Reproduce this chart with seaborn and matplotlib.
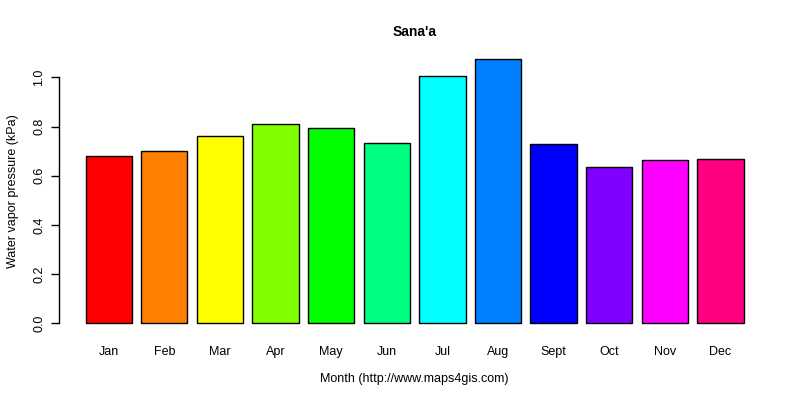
import matplotlib
matplotlib.use("Agg")
import matplotlib.pyplot as plt
import seaborn as sns
import pandas as pd

# monthly water vapor pressure, Sana'a (kPa)
months = ['Jan', 'Feb', 'Mar', 'Apr', 'May', 'Jun',
          'Jul', 'Aug', 'Sept', 'Oct', 'Nov', 'Dec']
vapor = [0.679, 0.699, 0.760, 0.809, 0.793, 0.732,
         1.004, 1.073, 0.728, 0.634, 0.663, 0.667]
colors = ['#FF0000', '#FF8000', '#FFFF00', '#80FF00', '#00FF00', '#00FF80',
          '#00FFFF', '#0080FF', '#0000FF', '#8000FF', '#FF00FF', '#FF0080']

df = pd.DataFrame({'month': months, 'vapor': vapor})

sns.set_style('white')
plt.rcParams['font.family'] = ['Liberation Sans', 'DejaVu Sans']
plt.rcParams['text.color'] = 'black'
plt.rcParams['axes.labelcolor'] = 'black'
plt.rcParams['xtick.color'] = 'black'
plt.rcParams['ytick.color'] = 'black'

fig = plt.figure(figsize=(8, 4), dpi=100)
ax = fig.add_axes([0.074, 0.165, 0.8885, 0.713])

sns.barplot(data=df, x='month', y='vapor', hue='month', palette=colors,
            legend=False, width=0.833, edgecolor='black', linewidth=1.0,
            saturation=1, ax=ax)

ax.set_xlim(-0.89, 11.89)
ax.set_ylim(-0.043, 1.116)
ax.set_yticks([0.0, 0.2, 0.4, 0.6, 0.8, 1.0])
ax.set_yticklabels(['0.0', '0.2', '0.4', '0.6', '0.8', '1.0'],
                   rotation=90, va='center', fontsize=9)
ax.tick_params(axis='y', left=True, length=6, width=1, pad=4)
ax.tick_params(axis='x', bottom=False, labelsize=9, pad=5)

for s in ['top', 'right', 'bottom']:
    ax.spines[s].set_visible(False)
ax.spines['left'].set_bounds(0, 1)
ax.spines['left'].set_color('black')
ax.spines['left'].set_linewidth(1)

ax.set_xlabel('Month (http://www.maps4gis.com)', fontsize=9, labelpad=11)
ax.set_ylabel('Water vapor pressure (kPa)', fontsize=9, labelpad=10)
ax.set_title("Sana'a", fontsize=10, fontweight='bold', pad=9)

fig.savefig('out.png', dpi=100)
